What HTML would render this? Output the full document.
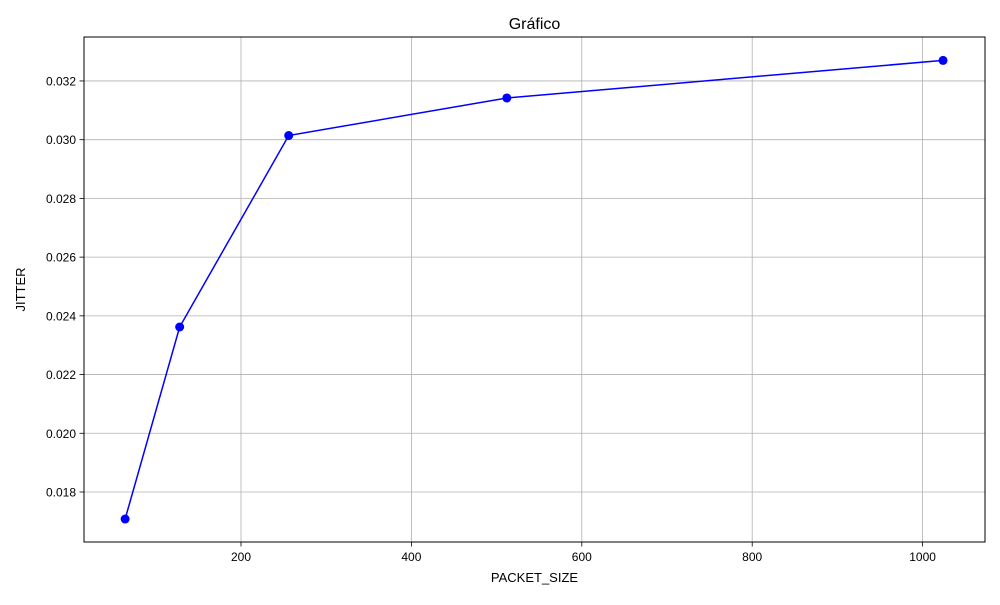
<!DOCTYPE html>
<html><head><meta charset="utf-8"><style>
body{margin:0;background:#fff;}
svg text{font-family:"Liberation Sans","DejaVu Sans",sans-serif;fill:#000;}
</style></head><body>
<svg id="chart" width="1000" height="600">
<text x="534.5" y="29" font-size="16" text-anchor="middle">Gráfico</text>
<g id="grid"></g>
<g id="ticks"></g>
<rect x="84" y="37" width="901" height="505" fill="none" stroke="#000" stroke-width="1"/>
<g id="series"></g>
<text x="534.5" y="582" font-size="13" text-anchor="middle">PACKET_SIZE</text>
<text x="0" y="0" font-size="13" text-anchor="middle" transform="translate(25,289.5) rotate(-90)">JITTER</text>
</svg>
<script>
const packetSizes=[64,128,256,512,1024];
const jitterValues=[0.01708,0.02362,0.030142,0.03142,0.0327];
const xTicks=[200,400,600,800,1000];
const yTicks=[0.018,0.020,0.022,0.024,0.026,0.028,0.030,0.032];
const NS="http://www.w3.org/2000/svg";
function sx(v){return 70.6+v*0.852;}
function sy(v){return 492-(v-0.018)*29360;}
function mk(tag,attrs,parent){const e=document.createElementNS(NS,tag);for(const k in attrs)e.setAttribute(k,attrs[k]);document.getElementById(parent).appendChild(e);return e;}
xTicks.forEach(t=>{const x=sx(t);
 let g=mk('line',{x1:x,x2:x,y1:37,y2:542,stroke:'#b0b0b0','stroke-width':0.8},'grid');
 
 
 let k=mk('line',{x1:x,x2:x,y1:542,y2:546.5,stroke:'#000','stroke-width':0.8},'ticks');
 
 
 let l=mk('text',{x:x,y:561,'font-size':12,'text-anchor':'middle'},'ticks');l.textContent=t;
 
 
});
yTicks.forEach(t=>{const y=sy(t);
 let g=mk('line',{x1:84,x2:985,y1:y,y2:y,stroke:'#b0b0b0','stroke-width':0.8},'grid');
 
 
 let k=mk('line',{x1:79.5,x2:84,y1:y,y2:y,stroke:'#000','stroke-width':0.8},'ticks');
 
 
 let l=mk('text',{x:76,y:y+4.5,'font-size':12,'text-anchor':'end'},'ticks');l.textContent=t.toFixed(3);
 
 
});
const pts=packetSizes.map((p,i)=>sx(p)+','+sy(jitterValues[i])).join(' ');
let pl=mk('polyline',{points:pts,fill:'none',stroke:'#0000ff','stroke-width':1.5},'series');


packetSizes.forEach((p,i)=>{
 let c=mk('circle',{cx:sx(p),cy:sy(jitterValues[i]),r:4.5,fill:'#0000ff'},'series');
 
 
});
</script>
</body></html>
